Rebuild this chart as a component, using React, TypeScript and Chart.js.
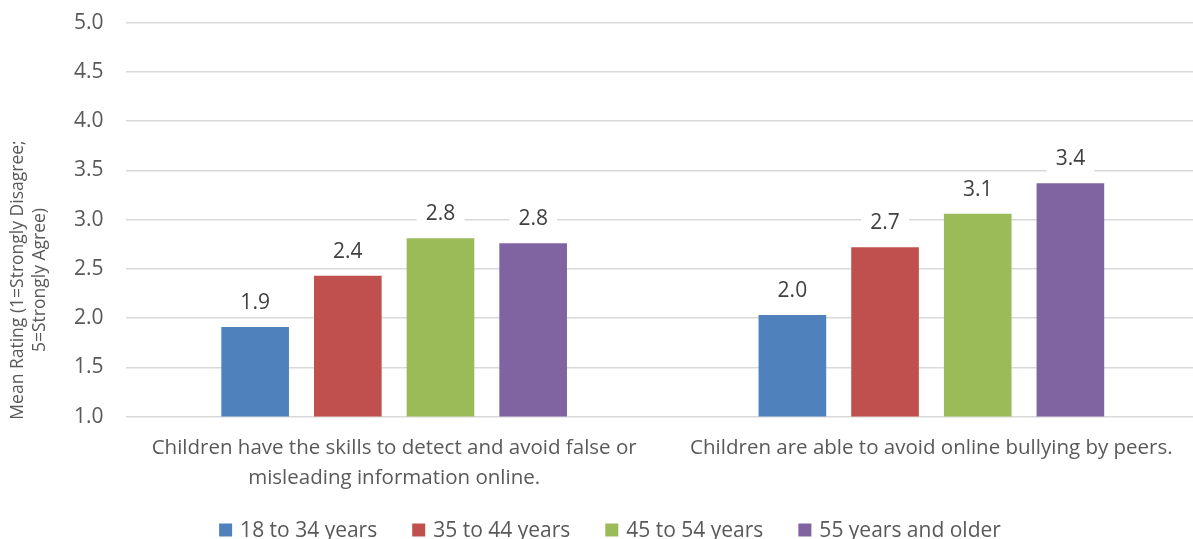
import React, { useEffect, useRef } from "react";
import { Chart, registerables } from "chart.js";

Chart.register(...registerables);

const categories: (string | string[])[] = [
  ["Children have the skills to detect and avoid false or", "misleading information online."],
  "Children are able to avoid online bullying by peers.",
];
const seriesNames = ["18 to 34 years", "35 to 44 years", "45 to 54 years", "55 years and older"];
const seriesColors = ["#4f81bd", "#c0504d", "#9bbb59", "#8064a2"];
const age18to34 = [1.91, 2.03];
const age35to44 = [2.43, 2.72];
const age45to54 = [2.81, 3.06];
const age55plus = [2.76, 3.37];
const seriesValues = [age18to34, age35to44, age45to54, age55plus];
const yTitle = ["Mean Rating (1=Strongly Disagree;", "5=Strongly Agree)"];

const FONT = "'Open Sans', 'Liberation Sans', sans-serif";
const TEXT = "#595959";
const SHIFT = 12;
const CANVAS_H = 551;
const CANVAS_W = 1200;

const labelPlugin = {
  id: "barLabels",
  afterDatasetsDraw(chart: any) {
    const ctx = chart.ctx;
    ctx.save();
    ctx.font = `21px ${FONT}`;
    ctx.textAlign = "center";
    ctx.textBaseline = "middle";
    chart.data.datasets.forEach((ds: any, i: number) => {
      const meta = chart.getDatasetMeta(i);
      meta.data.forEach((bar: any, j: number) => {
        const v = ds.data[j] as number;
        const txt = v.toFixed(1);
        const cx = bar.x;
        const cy = bar.y - 25;
        const w = 48;
        const h = 28;
        ctx.fillStyle = "#ffffff";
        ctx.fillRect(cx - w / 2, cy - h / 2, w, h);
        ctx.fillStyle = "#404040";
        ctx.fillText(txt, cx, cy + 1);
      });
    });
    // y axis title
    ctx.font = `17.5px ${FONT}`;
    ctx.fillStyle = TEXT;
    const cyTitle = 280 + SHIFT;
    [18, 40].forEach((x, k) => {
      ctx.save();
      ctx.translate(x, cyTitle);
      ctx.rotate(-Math.PI / 2);
      ctx.fillText(yTitle[k], 0, 0);
      ctx.restore();
    });
    // legend
    ctx.font = `21px ${FONT}`;
    ctx.textAlign = "left";
    const box = 13, gap = 8, spacing = 35;
    const widths = seriesNames.map((n) => ctx.measureText(n).width);
    const total = widths.reduce((a, b) => a + b, 0) + seriesNames.length * (box + gap) + (seriesNames.length - 1) * spacing;
    let x = 610 - total / 2;
    const ly = chart.height - 9;
    seriesNames.forEach((n, i) => {
      ctx.fillStyle = seriesColors[i];
      ctx.fillRect(x, ly - box / 2, box, box);
      ctx.fillStyle = TEXT;
      ctx.fillText(n, x + box + gap, ly + 1);
      x += box + gap + widths[i] + spacing;
    });
    ctx.restore();
  },
};

export default function App() {
  const ref = useRef<HTMLCanvasElement>(null);
  useEffect(() => {
    document.body.style.margin = "0";
    document.body.style.overflow = "hidden";
    document.documentElement.style.overflow = "hidden";
    const chart = new Chart(ref.current!, {
      type: "bar",
      data: {
        labels: categories as any,
        datasets: seriesNames.map((n, i) => ({
          label: n,
          data: seriesValues[i],
          backgroundColor: seriesColors[i],
          borderWidth: 0,
          categoryPercentage: 0.69,
          barPercentage: 0.73,
        })),
      },
      options: {
        animation: false,
        responsive: false,
        maintainAspectRatio: false,
        layout: { padding: { top: 0, right: 0, left: 52, bottom: 37 } },
        scales: {
          x: {
            grid: { display: false },
            border: { display: false },
            ticks: { color: TEXT, font: { size: 20.5, family: FONT, lineHeight: 1.45 }, padding: 9, maxRotation: 0 },
          },
          y: {
            min: 1,
            max: 5,
            ticks: {
              stepSize: 0.5,
              color: TEXT,
              font: { size: 21, family: FONT },
              padding: 22,
              callback: (v: any) => Number(v).toFixed(1),
            },
            grid: { color: "#d9d9d9", lineWidth: 1.5, drawTicks: false },
            border: { display: false },
          },
        },
        plugins: {
          legend: { display: false },
          tooltip: { enabled: false },
        },
      },
      plugins: [labelPlugin],
    } as any);
    return () => chart.destroy();
  }, []);
  return (
    <div style={{ width: 1193, height: 539, overflow: "hidden" }}>
      <canvas ref={ref} width={CANVAS_W} height={CANVAS_H} style={{ display: "block", marginTop: -SHIFT }} />
    </div>
  );
}
